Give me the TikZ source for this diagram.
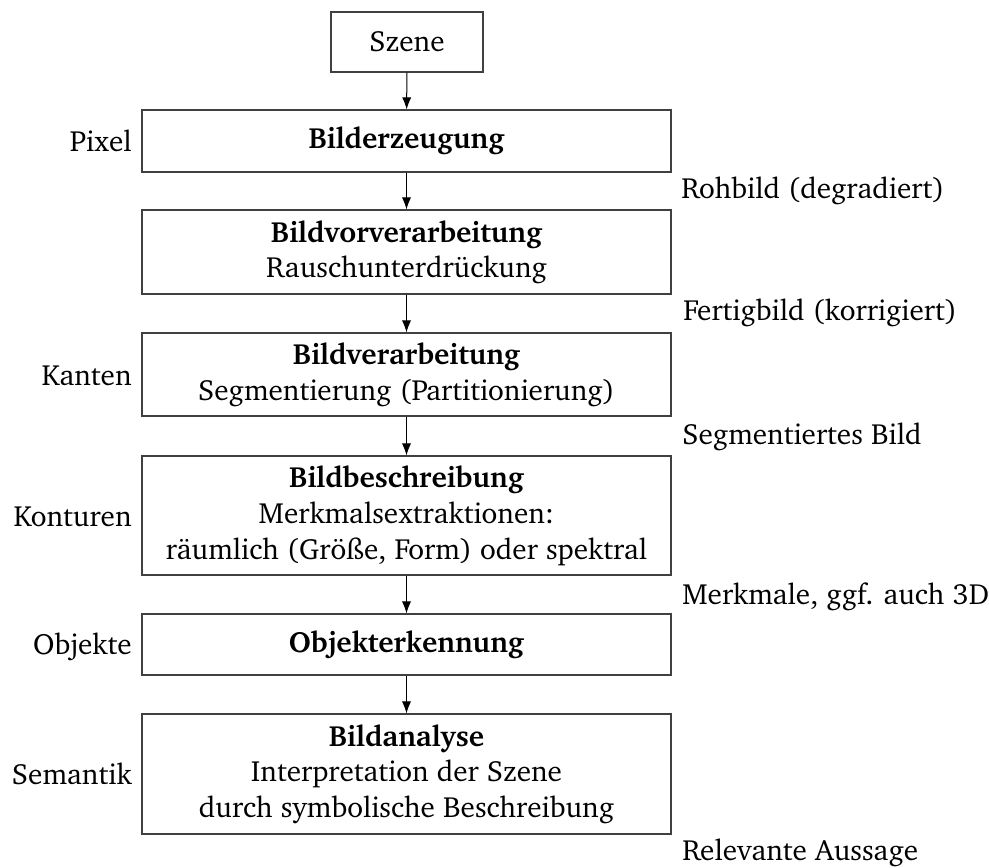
\documentclass[tikz,border=0pt]{standalone}
\usepackage[T1]{fontenc}
\usepackage{charter}
\usetikzlibrary{arrows.meta}
\tikzset{
  box/.style={draw=black!75, line width=0.6pt, inner sep=0pt, align=center,
    font=\fontsize{14.6}{17.9}\selectfont, minimum width=264.5pt},
  sidelbl/.style={inner sep=0pt, font=\fontsize{14.6}{17.9}\selectfont},
  flow/.style={draw=black, line width=0.5pt, -{Latex[length=6pt,width=4.6pt]}}
}
\begin{document}
\begin{tikzpicture}[x=0.5pt,y=-0.5pt]
\useasboundingbox (0,0) rectangle (989,867);
\node[box, minimum width=76pt, minimum height=30pt] (sz) at (407,42) {Szene};
\node[box, minimum height=31pt] (b1) at (406.5,141) {\textbf{Bilderzeugung}};
\node[box, minimum height=42pt] (b2) at (406.5,252) {\textbf{Bildvorverarbeitung}\\Rauschunterdr\"uckung};
\node[box, minimum height=41.5pt] (b3) at (406.5,374.5) {\textbf{Bildverarbeitung}\\Segmentierung (Partitionierung)};
\node[box, minimum height=59.5pt] (b4) at (406.5,515.5) {\textbf{Bildbeschreibung}\\Merkmalsextraktionen:\\r\"aumlich (Gr\"o\ss e, Form) oder spektral};
\node[box, minimum height=30.5pt] (b5) at (406.5,644.5) {\textbf{Objekterkennung}};
\node[box, minimum height=60pt] (b6) at (406.5,774) {\textbf{Bildanalyse}\\Interpretation der Szene\\durch symbolische Beschreibung};

\draw[flow] (sz) -- (b1);
\draw[flow] (b1) -- (b2);
\draw[flow] (b2) -- (b3);
\draw[flow] (b3) -- (b4);
\draw[flow] (b4) -- (b5);
\draw[flow] (b5) -- (b6);

\node[sidelbl, anchor=base east] (l1) at (132,151) {Pixel};
\node[sidelbl, anchor=base east] (l3) at (132,385) {Kanten};
\node[sidelbl, anchor=base east] (l4) at (132,526) {Konturen};
\node[sidelbl, anchor=base east] (l5) at (132,654) {Objekte};
\node[sidelbl, anchor=base east] (l6) at (132,784) {Semantik};

\node[sidelbl, anchor=base west] (r1) at (681,198) {Rohbild (degradiert)};
\node[sidelbl, anchor=base west] (r2) at (683,320) {Fertigbild (korrigiert)};
\node[sidelbl, anchor=base west] (r3) at (682,444) {Segmentiertes Bild};
\node[sidelbl, anchor=base west] (r4) at (682,604) {Merkmale, ggf. auch 3D};
\node[sidelbl, anchor=base west] (r5) at (682,860) {Relevante Aussage};
\end{tikzpicture}
\end{document}
